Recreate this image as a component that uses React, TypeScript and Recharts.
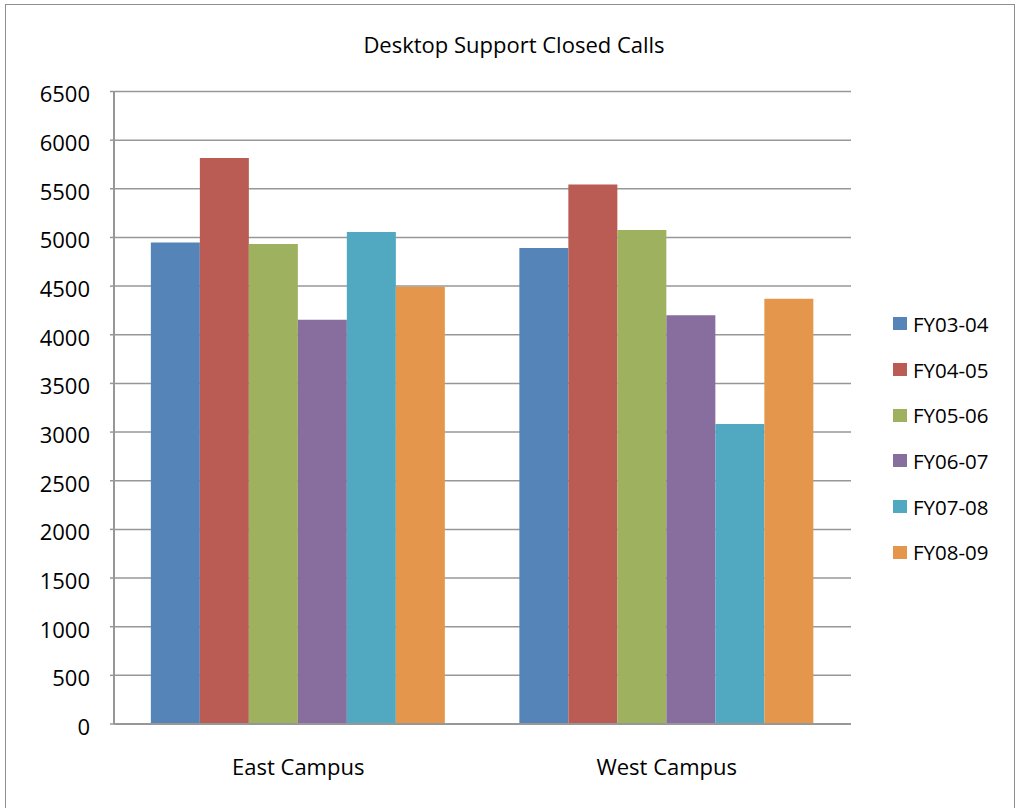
import React from "react";
import { BarChart, Bar, XAxis, YAxis, CartesianGrid } from "recharts";

const campuses = ["East Campus", "West Campus"];
const fiscalYears = ["FY03-04", "FY04-05", "FY05-06", "FY06-07", "FY07-08", "FY08-09"];

const fy0304 = [4947, 4892];
const fy0405 = [5817, 5543];
const fy0506 = [4933, 5077];
const fy0607 = [4155, 4200];
const fy0708 = [5057, 3083];
const fy0809 = [4494, 4371];

const yTicks = [0, 500, 1000, 1500, 2000, 2500, 3000, 3500, 4000, 4500, 5000, 5500, 6000, 6500];

const COLORS = ["#5585B8", "#BA5B54", "#9DB15F", "#876E9F", "#50A9C0", "#E4974C"];
const FONT = "'Open Sans', sans-serif";

const seriesValues = [fy0304, fy0405, fy0506, fy0607, fy0708, fy0809];

const data = campuses.map((name, i) => {
  const row: Record<string, string | number> = { name };
  fiscalYears.forEach((fy, s) => {
    row[fy] = seriesValues[s][i];
  });
  return row;
});

function App() {
  return (
    <div
      style={{
        position: "absolute",
        left: 0,
        top: 0,
        width: 1020,
        height: 808,
        overflow: "hidden",
        background: "#fff",
        fontFamily: FONT,
      }}
    >
      {/* chart frame */}
      <div
        style={{
          position: "absolute",
          left: 5,
          top: 4,
          width: 1008,
          height: 900,
          border: "1.5px solid #8e8e8e",
        }}
      />

      <div
        style={{
          position: "absolute",
          left: 0,
          top: 29,
          width: 1028,
          textAlign: "center",
          fontSize: 22,
          color: "#000",
        }}
      >
        Desktop Support Closed Calls
      </div>

      <div style={{ position: "absolute", left: 0, top: 0 }}>
        <BarChart
          width={1020}
          height={808}
          data={data}
          margin={{ top: 91.5, right: 169, bottom: 0, left: 0 }}
          barCategoryGap="10%"
          barGap={0}
        >
          <CartesianGrid vertical={false} stroke="#979797" strokeWidth={1.5} />
          <XAxis
            dataKey="name"
            height={84}
            tickLine={false}
            tickSize={0}
            tickMargin={35}
            axisLine={{ stroke: "#979797", strokeWidth: 2 }}
            tick={{ fill: "#000", fontSize: 22, fontFamily: FONT }}
          />
          <YAxis
            width={114}
            domain={[0, 6500]}
            ticks={yTicks}
            interval={0}
            tickSize={4}
            tickMargin={20}
            tickLine={{ stroke: "#979797", strokeWidth: 1.5 }}
            axisLine={{ stroke: "#979797", strokeWidth: 2 }}
            tick={{ fill: "#000", fontSize: 22, fontFamily: FONT, dy: 3 }}
          />
          {fiscalYears.map((fy, i) => (
            <Bar key={fy} dataKey={fy} fill={COLORS[i]} isAnimationActive={false} />
          ))}
        </BarChart>
      </div>

      {/* legend */}
      <div style={{ position: "absolute", left: 893, top: 301 }}>
        {fiscalYears.map((fy, i) => (
          <div
            key={fy}
            style={{ height: 45.7, display: "flex", alignItems: "center", gap: 6 }}
          >
            <span
              style={{ width: 14, height: 13, background: COLORS[i], display: "inline-block" }}
            />
            <span style={{ fontSize: 20.5, color: "#000" }}>{fy}</span>
          </div>
        ))}
      </div>
    </div>
  );
}

export default App;
